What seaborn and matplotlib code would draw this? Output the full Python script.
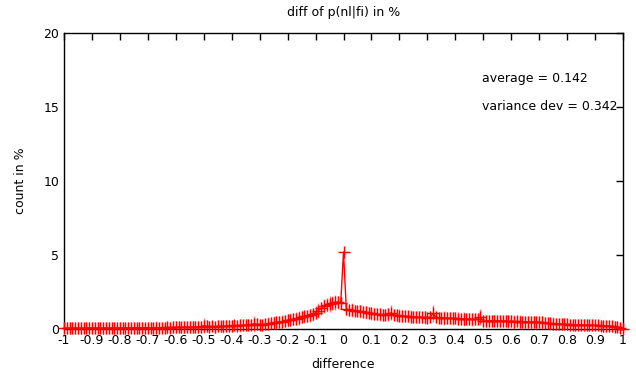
import numpy as np
import pandas as pd
import matplotlib
matplotlib.use("Agg")
import matplotlib.pyplot as plt
import seaborn as sns

# bin centres of the difference histogram, -1 .. 1 in steps of 0.01
diff = np.round(np.linspace(-1.0, 1.0, 201), 2)

# count in % per bin
count = [
    0.05, 0.06, 0.05, 0.05, 0.06, 0.05, 0.06, 0.05, 0.06, 0.06,
    0.06, 0.06, 0.07, 0.06, 0.06, 0.07, 0.06, 0.07, 0.07, 0.06,
    0.07, 0.07, 0.08, 0.07, 0.08, 0.07, 0.08, 0.08, 0.08, 0.09,
    0.09, 0.08, 0.09, 0.10, 0.09, 0.10, 0.10, 0.11, 0.10, 0.11,
    0.11, 0.12, 0.11, 0.12, 0.13, 0.12, 0.13, 0.14, 0.13, 0.15,
    0.22, 0.18, 0.16, 0.17, 0.15, 0.18, 0.19, 0.17, 0.20, 0.21,
    0.22, 0.24, 0.23, 0.25, 0.26, 0.25, 0.28, 0.30, 0.35, 0.32,
    0.30, 0.28, 0.33, 0.36, 0.38, 0.42, 0.45, 0.48, 0.50, 0.55,
    0.58, 0.62, 0.66, 0.70, 0.75, 0.80, 0.85, 0.88, 0.92, 0.98,
    1.10, 1.25, 1.40, 1.55, 1.65, 1.70, 1.75, 1.80, 1.80, 1.75,
    5.20,
    1.35, 1.30, 1.28, 1.25, 1.22, 1.20, 1.15, 1.12, 1.08, 1.05,
    1.02, 1.00, 0.98, 0.96, 0.95, 0.98, 1.10, 0.95, 0.92, 0.90,
    0.88, 0.86, 0.85, 0.84, 0.82, 0.80, 0.80, 0.78, 0.78, 0.76,
    0.80, 1.05, 0.82, 0.76, 0.75, 0.74, 0.74, 0.72, 0.72, 0.72,
    0.70, 0.70, 0.68, 0.68, 0.66, 0.65, 0.65, 0.66, 0.80, 0.55,
    0.54, 0.55, 0.55, 0.56, 0.55, 0.54, 0.55, 0.53, 0.52, 0.52,
    0.50, 0.51, 0.50, 0.50, 0.49, 0.48, 0.48, 0.47, 0.46, 0.45,
    0.44, 0.42, 0.40, 0.38, 0.36, 0.35, 0.34, 0.33, 0.32, 0.31,
    0.30, 0.30, 0.29, 0.28, 0.28, 0.27, 0.26, 0.26, 0.25, 0.25,
    0.24, 0.23, 0.22, 0.21, 0.20, 0.18, 0.16, 0.14, 0.10, 0.03,
]

# error bar half heights
err = [
    0.40, 0.38, 0.40, 0.42, 0.38, 0.40, 0.40, 0.38, 0.42, 0.40,
    0.38, 0.40, 0.42, 0.40, 0.38, 0.40, 0.42, 0.40, 0.38, 0.40,
    0.40, 0.38, 0.42, 0.40, 0.38, 0.40, 0.40, 0.42, 0.38, 0.40,
    0.40, 0.38, 0.40, 0.42, 0.40, 0.38, 0.40, 0.42, 0.40, 0.40,
    0.40, 0.42, 0.38, 0.40, 0.40, 0.42, 0.38, 0.40, 0.40, 0.42,
    0.50, 0.40, 0.38, 0.40, 0.42, 0.40, 0.38, 0.42, 0.40, 0.40,
    0.42, 0.40, 0.38, 0.42, 0.40, 0.40, 0.42, 0.40, 0.55, 0.42,
    0.40, 0.42, 0.40, 0.42, 0.40, 0.45, 0.42, 0.40, 0.45, 0.42,
    0.42, 0.45, 0.40, 0.42, 0.45, 0.42, 0.45, 0.42, 0.45, 0.45,
    0.45, 0.50, 0.45, 0.50, 0.45, 0.55, 0.45, 0.50, 0.45, 0.40,
    0.15,
    0.40, 0.42, 0.45, 0.40, 0.42, 0.45, 0.40, 0.42, 0.40, 0.45,
    0.42, 0.40, 0.45, 0.42, 0.40, 0.42, 0.50, 0.40, 0.42, 0.45,
    0.40, 0.42, 0.40, 0.45, 0.42, 0.40, 0.42, 0.40, 0.45, 0.40,
    0.42, 0.55, 0.40, 0.42, 0.40, 0.45, 0.42, 0.40, 0.42, 0.40,
    0.42, 0.40, 0.45, 0.42, 0.40, 0.42, 0.40, 0.42, 0.55, 0.40,
    0.42, 0.40, 0.42, 0.40, 0.42, 0.40, 0.42, 0.40, 0.42, 0.40,
    0.42, 0.40, 0.45, 0.40, 0.42, 0.40, 0.42, 0.40, 0.45, 0.40,
    0.42, 0.40, 0.42, 0.40, 0.42, 0.40, 0.38, 0.40, 0.42, 0.40,
    0.40, 0.38, 0.40, 0.42, 0.40, 0.38, 0.40, 0.38, 0.40, 0.38,
    0.40, 0.38, 0.40, 0.38, 0.40, 0.38, 0.36, 0.38, 0.36, 0.35,
]

df = pd.DataFrame({"difference": diff, "count": count, "err": err})

sns.set_style("white")
plt.rcParams['font.family'] = ['DejaVu Sans']
plt.rcParams['font.size'] = 9
plt.rcParams['text.color'] = 'black'
plt.rcParams['axes.labelcolor'] = 'black'
plt.rcParams['xtick.color'] = 'black'
plt.rcParams['ytick.color'] = 'black'

fig = plt.figure(figsize=(6.36, 3.74), dpi=100)
ax = fig.add_axes([64 / 636, 1 - 329 / 374, (623 - 64) / 636, (329 - 33) / 374])

# error bars first (lighter, drawn under the line)
ax.errorbar(df["difference"], df["count"], yerr=df["err"], fmt="none",
            ecolor=(1, 0, 0, 0.5), elinewidth=1, clip_on=False)
# connecting line with + markers
sns.lineplot(data=df, x="difference", y="count", color="red", lw=1,
             marker="+", markersize=8.6, markeredgewidth=1,
             markeredgecolor="red", ax=ax, clip_on=False)

ax.set_xlim(-1, 1)
ax.set_ylim(0, 20)
ax.set_xticks(np.round(np.arange(-1, 1.01, 0.1), 1))
ax.set_xticklabels(["-1", "-0.9", "-0.8", "-0.7", "-0.6", "-0.5", "-0.4", "-0.3",
                    "-0.2", "-0.1", "0", "0.1", "0.2", "0.3", "0.4", "0.5",
                    "0.6", "0.7", "0.8", "0.9", "1"])
ax.set_yticks([0, 5, 10, 15, 20])
ax.tick_params(direction="in", top=True, right=True, length=5, width=1,
               labelsize=9, color="black", labelcolor="black")
for s in ax.spines.values():
    s.set_color("black")
    s.set_linewidth(1)
    s.set_zorder(0.5)

ax.set_xlabel("difference", fontsize=9, labelpad=8, color="black")
ax.set_ylabel("count in %", fontsize=9, labelpad=12, color="black")
ax.set_title("diff of p(nl|fi) in %", fontsize=9, pad=12, color="black")

ax.text(0.496, 16.95, "average = 0.142", fontsize=9, va="center", color="black")
ax.text(0.496, 15.0, "variance dev = 0.342", fontsize=9, va="center", color="black")

fig.savefig("out.png", dpi=100)
